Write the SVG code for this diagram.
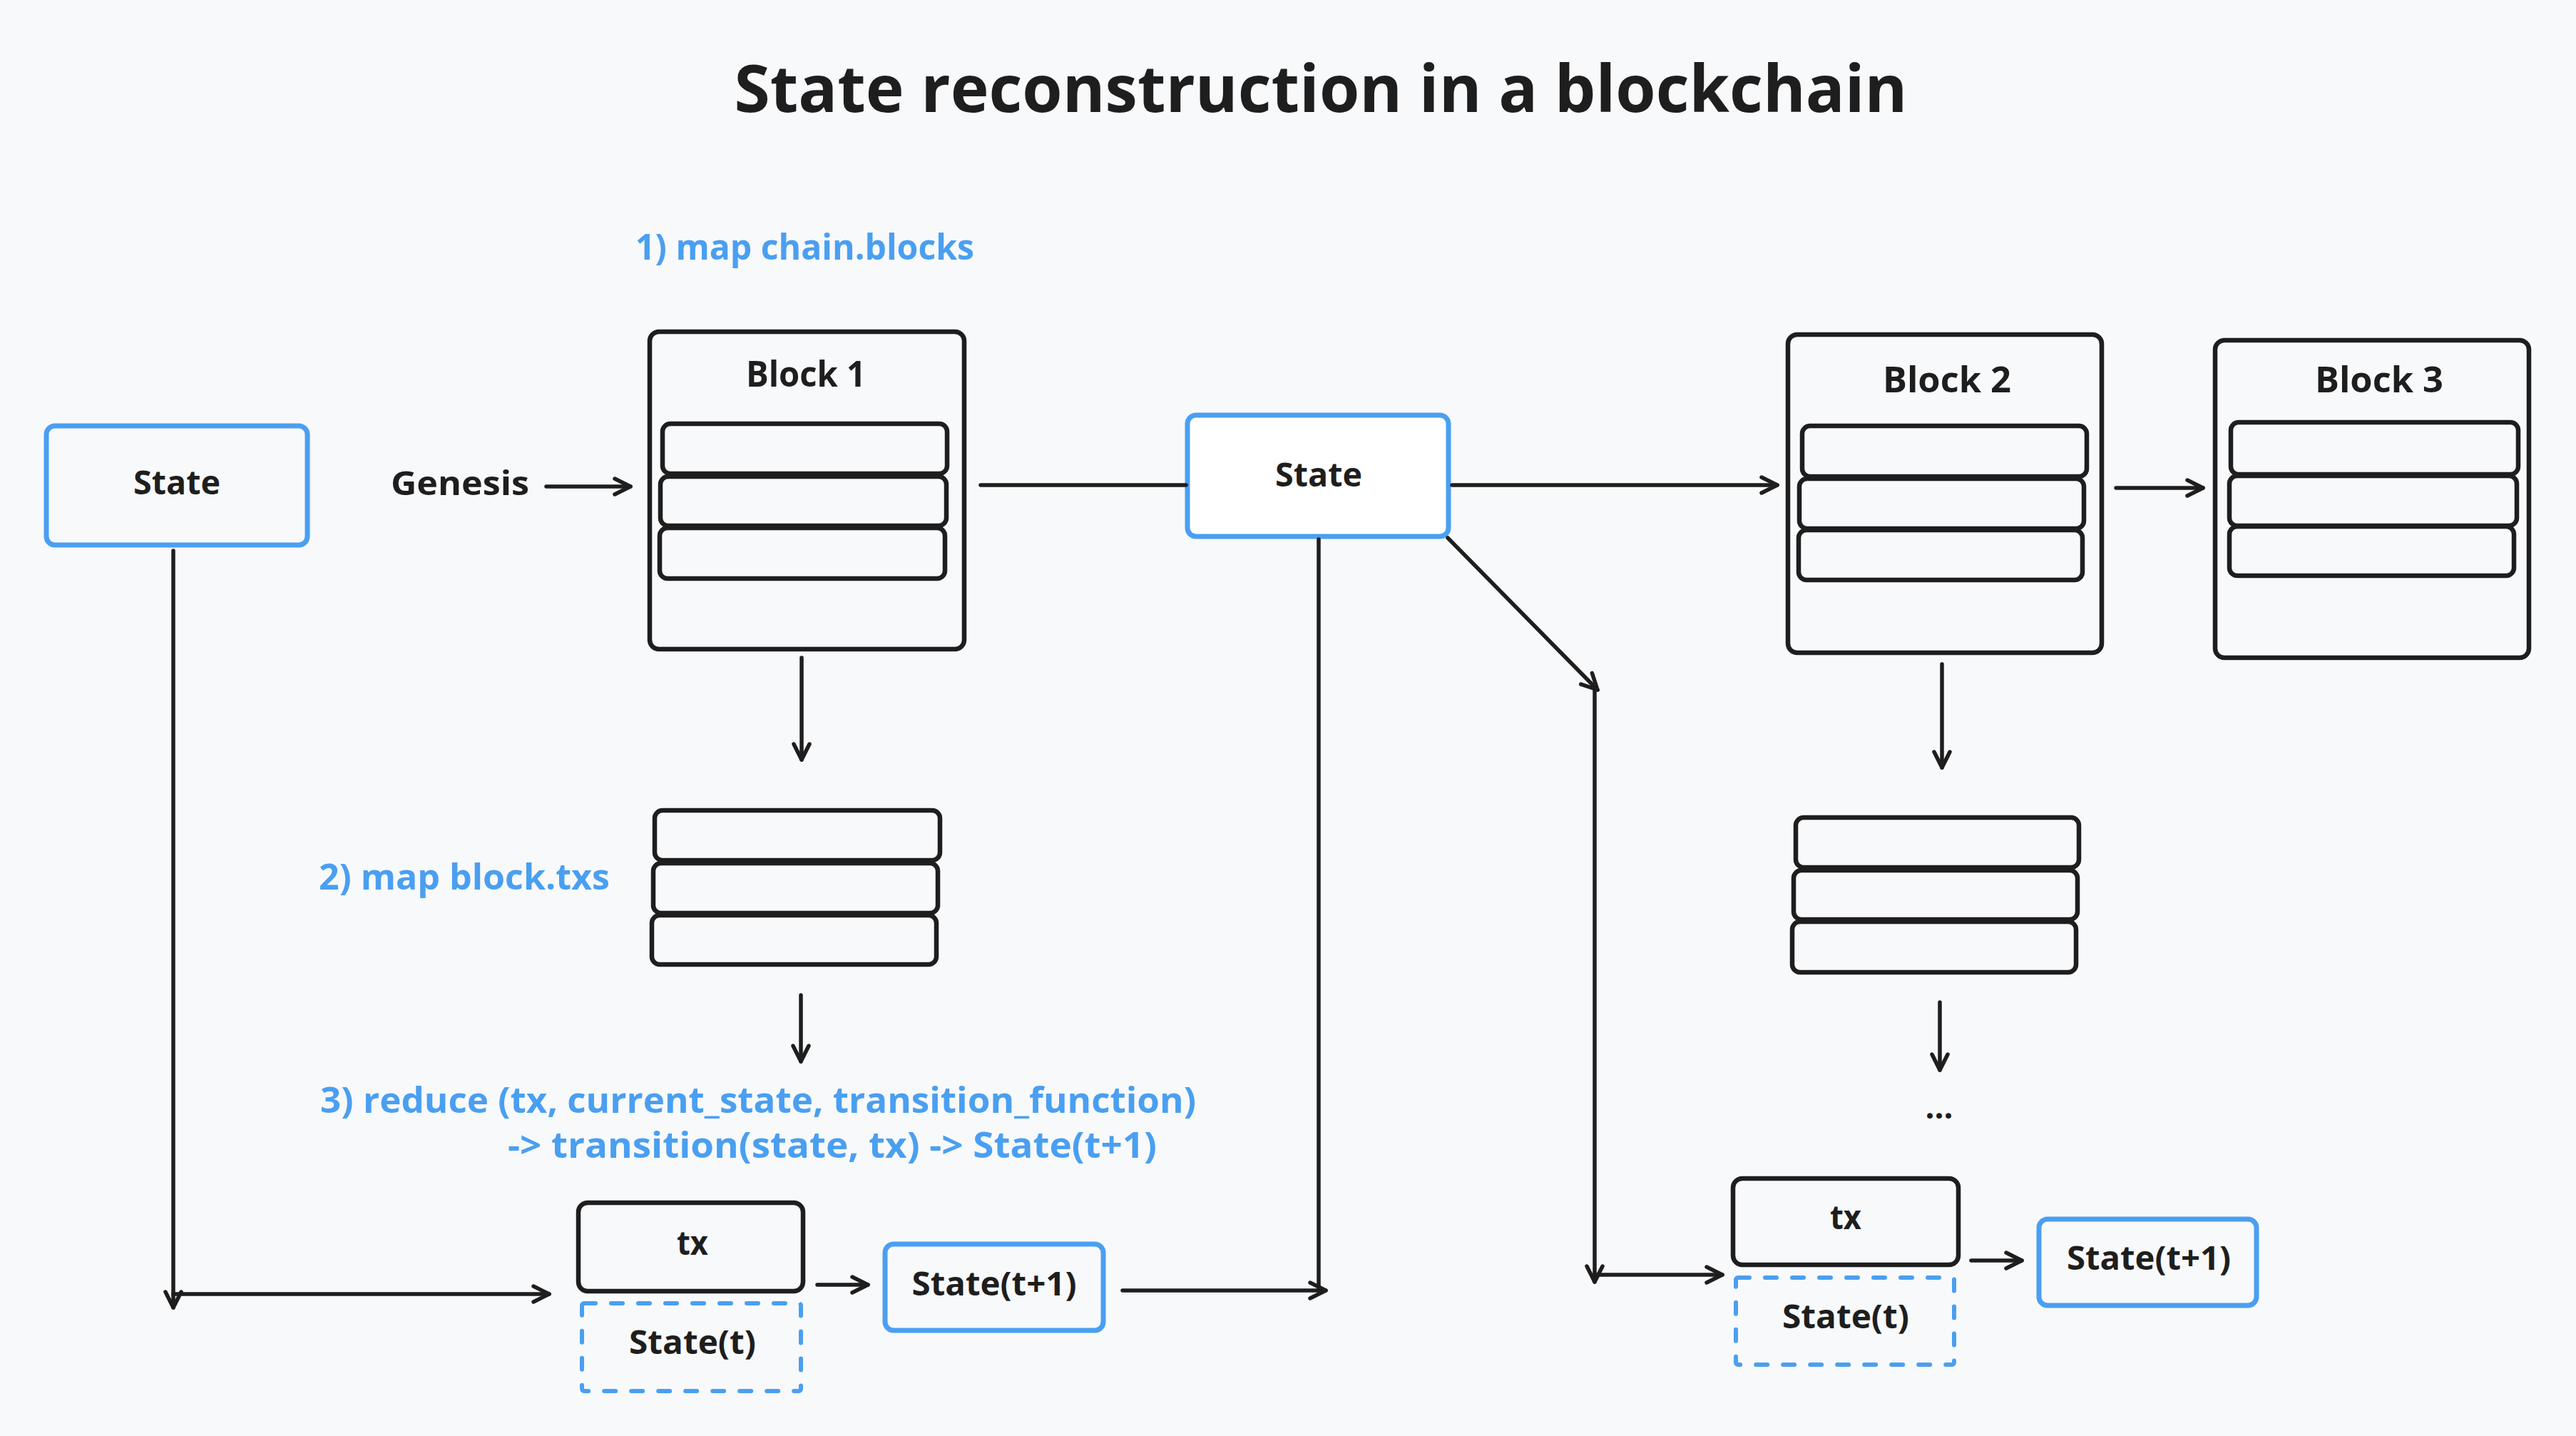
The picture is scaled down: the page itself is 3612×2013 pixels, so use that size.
<svg xmlns="http://www.w3.org/2000/svg" width="3612" height="2013" viewBox="0 0 3612 2013">
<defs>
<style>
.bg{fill:#f8f9fb}
.box{fill:none;stroke:#1e1e1e;stroke-width:6.5}
.row{fill:none;stroke:#1e1e1e;stroke-width:6.5}
.blue{fill:none;stroke:#4a9ff1;stroke-width:7}
.bluew{fill:#ffffff;stroke:#4a9ff1;stroke-width:7}
.dash{fill:none;stroke:#4a9ff1;stroke-width:6;stroke-dasharray:16 22;stroke-linecap:round}
.conn{fill:none;stroke:#1e1e1e;stroke-width:5.5;stroke-linecap:round}
.t{font-family:"Open Sans","Liberation Sans",sans-serif;font-weight:700;fill:#1e1e1e;text-anchor:middle}
.tb{font-family:"Open Sans","Liberation Sans",sans-serif;font-weight:700;fill:#4a9ff1}
</style>
<marker id="ah" markerUnits="userSpaceOnUse" viewBox="0 0 32 32" refX="27" refY="16" markerWidth="32" markerHeight="32" orient="auto">
<path d="M5,5 L27,16 L5,27" fill="none" stroke="#1e1e1e" stroke-width="5.5" stroke-linecap="round" stroke-linejoin="round"/>
</marker>
</defs>
<rect class="bg" x="0" y="0" width="3612" height="2013"/>

<text class="t" x="1852" y="157" font-size="92" textLength="1645" lengthAdjust="spacingAndGlyphs">State reconstruction in a blockchain</text>

<g id="label-map-blocks"><text class="tb" x="891" y="364" font-size="50" textLength="475" lengthAdjust="spacingAndGlyphs">1) map chain.blocks</text></g>
<g id="label-map-txs"><text class="tb" x="447" y="1247" font-size="50" textLength="408" lengthAdjust="spacingAndGlyphs">2) map block.txs</text></g>
<g id="label-reduce">
<text class="tb" x="449" y="1560" font-size="50" textLength="1228" lengthAdjust="spacingAndGlyphs">3) reduce (tx, current_state, transition_function)</text>
<text class="tb" x="712" y="1623" font-size="50" textLength="910" lengthAdjust="spacingAndGlyphs">-&gt; transition(state, tx) -&gt; State(t+1)</text>
</g>

<g id="state-left">
<rect class="blue" x="65" y="597" width="366" height="167" rx="12"/>
<text class="t" x="248" y="693" font-size="46" textLength="122" lengthAdjust="spacingAndGlyphs">State</text>
</g>

<g id="genesis"><text class="t" x="645" y="694" font-size="46" textLength="194" lengthAdjust="spacingAndGlyphs">Genesis</text></g>

<g id="block1">
<rect class="box" x="911" y="465" width="441" height="445" rx="13"/>
<text class="t" x="1130" y="542" font-size="50" textLength="168" lengthAdjust="spacingAndGlyphs">Block 1</text>
<rect class="row" x="929" y="594" width="399" height="70" rx="11"/>
<rect class="row" x="926" y="668" width="401" height="69" rx="11"/>
<rect class="row" x="925" y="740" width="400" height="71" rx="11"/>
</g>

<g id="state-mid">
<rect class="bluew" x="1665" y="582" width="366" height="170" rx="12"/>
<text class="t" x="1849" y="682" font-size="46" textLength="122" lengthAdjust="spacingAndGlyphs">State</text>
</g>

<g id="block2">
<rect class="box" x="2507" y="469" width="440" height="446" rx="13"/>
<text class="t" x="2730" y="550" font-size="50" textLength="180" lengthAdjust="spacingAndGlyphs">Block 2</text>
<rect class="row" x="2527" y="597" width="399" height="71" rx="11"/>
<rect class="row" x="2523" y="671" width="399" height="70" rx="11"/>
<rect class="row" x="2522" y="743" width="398" height="70" rx="11"/>
</g>

<g id="block3">
<rect class="box" x="3106" y="477" width="440" height="445" rx="13"/>
<text class="t" x="3336" y="550" font-size="50" textLength="180" lengthAdjust="spacingAndGlyphs">Block 3</text>
<rect class="row" x="3128" y="592" width="403" height="73" rx="11"/>
<rect class="row" x="3126" y="667" width="403" height="70" rx="11"/>
<rect class="row" x="3126" y="738" width="399" height="69" rx="11"/>
</g>

<g id="txs1">
<rect class="row" x="918" y="1136" width="400" height="70" rx="11"/>
<rect class="row" x="916" y="1210" width="399" height="70" rx="11"/>
<rect class="row" x="914" y="1283" width="399" height="69" rx="11"/>
</g>

<g id="txs2">
<rect class="row" x="2518" y="1146" width="397" height="70" rx="11"/>
<rect class="row" x="2515" y="1220" width="398" height="69" rx="11"/>
<rect class="row" x="2513" y="1292" width="398" height="71" rx="11"/>
</g>

<g id="tx1">
<rect class="box" x="811" y="1686" width="315" height="124" rx="13"/>
<text class="t" x="971" y="1759" font-size="46" textLength="44" lengthAdjust="spacingAndGlyphs">tx</text>
</g>
<g id="state-t1">
<rect class="dash" x="816" y="1827" width="307" height="123" rx="3"/>
<text class="t" x="971" y="1898" font-size="46" textLength="178" lengthAdjust="spacingAndGlyphs">State(t)</text>
</g>
<g id="state-t1-next">
<rect class="blue" x="1241" y="1744" width="306" height="121" rx="12"/>
<text class="t" x="1394" y="1816" font-size="46" textLength="231" lengthAdjust="spacingAndGlyphs">State(t+1)</text>
</g>

<g id="ellipsis"><text class="t" x="2719" y="1568" font-size="46" textLength="39" lengthAdjust="spacingAndGlyphs">...</text></g>

<g id="tx2">
<rect class="box" x="2430" y="1652" width="316" height="121" rx="13"/>
<text class="t" x="2588" y="1723" font-size="46" textLength="44" lengthAdjust="spacingAndGlyphs">tx</text>
</g>
<g id="state-t2">
<rect class="dash" x="2434" y="1791" width="306" height="122" rx="3"/>
<text class="t" x="2588" y="1862" font-size="46" textLength="178" lengthAdjust="spacingAndGlyphs">State(t)</text>
</g>
<g id="state-t2-next">
<rect class="blue" x="2859" y="1709" width="305" height="121" rx="12"/>
<text class="t" x="3013" y="1780" font-size="46" textLength="230" lengthAdjust="spacingAndGlyphs">State(t+1)</text>
</g>

<g id="connectors">
<path class="conn" d="M243,772 L243,1833" marker-end="url(#ah)"/>
<path class="conn" d="M243,1814 L770,1814" marker-end="url(#ah)"/>
<path class="conn" d="M766,682 L884,682" marker-end="url(#ah)"/>
<path class="conn" d="M1375,680 L1663,680"/>
<path class="conn" d="M2036,680 L2492,680" marker-end="url(#ah)"/>
<path class="conn" d="M2967,684 L3089,684" marker-end="url(#ah)"/>
<path class="conn" d="M1124,922 L1124,1065" marker-end="url(#ah)"/>
<path class="conn" d="M1123,1395 L1123,1488" marker-end="url(#ah)"/>
<path class="conn" d="M1146,1801 L1217,1801" marker-end="url(#ah)"/>
<path class="conn" d="M1574,1809 L1859,1809" marker-end="url(#ah)"/>
<path class="conn" d="M1849,756 L1849,1809"/>
<path class="conn" d="M2030,754 L2240,967" marker-end="url(#ah)"/>
<path class="conn" d="M2236,968 L2236,1797" marker-end="url(#ah)"/>
<path class="conn" d="M2236,1787 L2415,1787" marker-end="url(#ah)"/>
<path class="conn" d="M2723,931 L2723,1076" marker-end="url(#ah)"/>
<path class="conn" d="M2720,1405 L2720,1500" marker-end="url(#ah)"/>
<path class="conn" d="M2764,1767 L2835,1767" marker-end="url(#ah)"/>
</g>
</svg>
